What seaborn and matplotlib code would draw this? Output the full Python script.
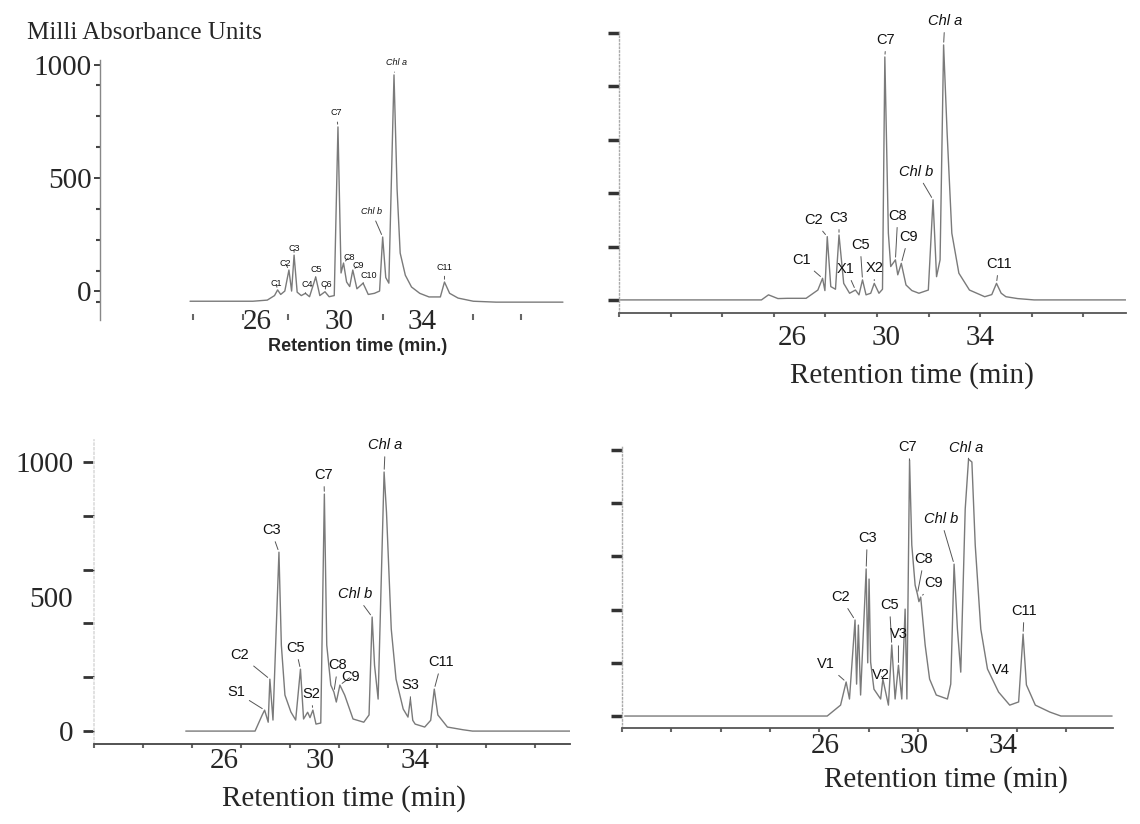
import numpy as np
import pandas as pd
import matplotlib
matplotlib.use("Agg")
import matplotlib.pyplot as plt
import seaborn as sns
from matplotlib.ticker import FixedLocator, FixedFormatter

sns.set_theme(style="white")
plt.rcParams['font.family'] = ['Liberation Serif', 'DejaVu Serif']
SANS = ['Liberation Sans', 'DejaVu Sans']

# ---------------- data (retention time in min, milli absorbance units) -------------
a_time = [22.75, 23.5, 24.2, 25.0, 25.8, 26.5, 26.85, 27.0, 27.15, 27.35, 27.55, 27.68, 27.8, 27.95,
          28.15, 28.35, 28.55, 28.85, 29.05, 29.3, 29.5, 29.75, 29.93, 30.08, 30.2, 30.35, 30.5, 30.65,
          30.85, 31.15, 31.4, 31.7, 31.95, 32.1, 32.25, 32.4, 32.65, 32.8, 32.95, 33.2, 33.5, 33.9,
          34.35, 34.9, 35.1, 35.35, 35.76, 36.5, 37.6, 40.85]
a_mau = [-45, -45, -45, -45, -45, -40, -20, 5, -15, 0, 93, 0, 159, -5,
         -20, -10, -25, 62, -20, -3, -25, -20, 726, 80, 124, 40, 20, 93,
         10, 35, -15, -10, 0, 239, 60, 35, 956, 450, 168, 70, 18, -10,
         -26, -26, 40, -10, -31, -45, -49, -49]
a_names = ["C1", "C2", "C3", "C4", "C5", "C6", "C7", "C8", "C9", "C10", "Chl b", "Chl a", "C11"]
a_peak_t = [27.0, 27.55, 27.8, 28.35, 28.85, 29.3, 29.93, 30.2, 30.65, 31.15, 32.1, 32.65, 35.1]

b_time = [18.7, 22.0, 23.7, 24.7, 25.0, 25.4, 25.8, 26.6, 27.1, 27.3, 27.4, 27.5, 27.65, 27.85, 28.0,
          28.2, 28.45, 28.7, 28.85, 29.0, 29.15, 29.35, 29.5, 29.7, 29.85, 29.95, 30.1, 30.2, 30.4,
          30.5, 30.65, 30.85, 31.1, 31.4, 31.8, 32.0, 32.15, 32.3, 32.45, 32.6, 32.8, 33.1, 33.55,
          34.2, 34.5, 34.7, 34.9, 35.1, 35.6, 36.3, 40.2]
b_mau = [0, 0, 0, 0, 19, 5, 6, 6, 37, 81, 35, 237, 50, 40, 243,
         62, 25, 37, 19, 75, 19, 25, 62, 25, 40, 910, 250, 125, 150,
         94, 137, 56, 35, 25, 37, 375, 87, 150, 955, 625, 250, 100, 37,
         12, 20, 62, 25, 12, 5, 0, 0]
b_names = ["C1", "C2", "C3", "X1", "C5", "X2", "C7", "C8", "C9", "Chl b", "Chl a", "C11"]
b_peak_t = [27.3, 27.5, 28.0, 28.7, 29.0, 29.5, 29.95, 30.4, 30.65, 32.0, 32.45, 34.7]

c_time = [24.4, 25.7, 26.8, 27.3, 27.6, 27.7, 27.85, 27.92, 28.05, 28.3, 28.4, 28.55, 28.8, 29.0,
          29.2, 29.33, 29.5, 29.6, 29.72, 29.85, 30.05, 30.2, 30.3, 30.47, 30.6, 30.7, 30.85, 31.05,
          31.4, 31.85, 32.07, 32.2, 32.3, 32.45, 32.7, 32.8, 33.0, 33.2, 33.5, 33.7, 33.8, 33.9,
          34.0, 34.4, 34.65, 34.8, 34.95, 35.35, 36.0, 36.4, 40.5]
c_mau = [0, 0, 0, 0, 60, 78, 33, 193, 41, 665, 320, 134, 71, 41,
         230, 45, 70, 50, 78, 26, 30, 881, 320, 171, 145, 108, 171, 134,
         45, 33, 60, 424, 245, 119, 963, 814, 379, 193, 82, 52, 119, 40,
         26, 15, 40, 156, 60, 15, 5, 0, 0]
c_names = ["S1", "C2", "C3", "C5", "S2", "C7", "C8", "C9", "Chl b", "Chl a", "S3", "C11"]
c_peak_t = [27.7, 27.92, 28.3, 29.2, 29.72, 30.2, 30.6, 30.85, 32.2, 32.7, 33.8, 34.8]

d_time = [17.0, 18.6, 22.1, 24.0, 25.6, 26.1, 26.7, 26.95, 27.1, 27.35, 27.42, 27.5, 27.6, 27.85,
          27.92, 27.98, 28.05, 28.2, 28.5, 28.6, 28.85, 29.0, 29.15, 29.3, 29.45, 29.6, 29.68, 29.8,
          29.9, 30.05, 30.15, 30.22, 30.3, 30.5, 30.7, 31.0, 31.5, 31.65, 31.8, 31.95, 32.1, 32.3,
          32.45, 32.6, 32.75, 33.0, 33.3, 33.8, 34.3, 34.7, 34.9, 35.05, 35.45, 36.1, 36.6, 38.9]
d_mau = [0, 0, 0, 0, 0, 0, 41, 128, 64, 361, 120, 342, 79, 553,
         200, 515, 203, 101, 64, 139, 41, 267, 64, 191, 64, 402, 64, 962,
         643, 492, 459, 430, 447, 267, 139, 79, 64, 120, 571, 327, 165, 778,
         966, 955, 643, 327, 177, 90, 41, 53, 308, 117, 41, 15, 0, 0]
d_names = ["V1", "C2", "C3", "V2", "C5", "V3", "C7", "C8", "C9", "Chl b", "Chl a", "V4", "C11"]
d_peak_t = [26.95, 27.35, 27.85, 28.6, 29.0, 29.3, 29.8, 30.15, 30.3, 31.8, 32.45, None, 34.9]

x_tick_values = [26, 30, 34]

# ---------------- layout (label positions in data coords) ----------------
a_label_pos = [(26.92, 35), (27.37, 124), (27.8, 190), (28.43, 27), (28.86, 97), (29.35, 31),
               (29.85, 788), (30.47, 150), (30.9, 111), (31.44, 71), (31.57, 350), (32.75, 1009),
               (35.1, 106)]
b_label_pos = [(26.4, 150), (26.9, 300), (28.0, 307), (28.3, 116), (28.9, 206), (29.5, 120),
               (30.0, 974), (30.5, 315), (30.95, 236), (31.3, 480), (32.5, 1045), (34.8, 135)]
c_label_pos = [(26.5, 145), (26.67, 283), (27.97, 747), (29.0, 309), (29.64, 138), (30.18, 952),
               (30.77, 245), (31.3, 201), (31.5, 509), (32.75, 1063), (33.8, 171), (35.1, 256)]
d_label_pos = [(26.05, 195), (26.7, 447), (27.9, 669), (28.5, 154), (28.9, 417), (29.3, 308),
               (29.7, 1011), (30.45, 590), (30.9, 500), (31.2, 741), (32.35, 1008), (33.9, 173),
               (34.95, 395)]

W, H = 1140, 824
fig = plt.figure(figsize=(W / 100, H / 100), dpi=100)
fig.patch.set_facecolor('white')


def make_ax(l, r, t, b):
    return fig.add_axes([l / W, 1 - b / H, (r - l) / W, (b - t) / H])


TRACE = '#7a7a7a'


def draw_trace(ax, t, v):
    df = pd.DataFrame({'t': t, 'v': v})
    sns.lineplot(data=df, x='t', y='v', ax=ax, color=TRACE, linewidth=1.0,
                 estimator=None, sort=False)
    ax.set_xlabel('')
    ax.set_ylabel('')


def annotate(ax, names, peak_t, label_pos, t, v, fs):
    for name, pt, (lx, ly) in zip(names, peak_t, label_pos):
        style = 'italic' if name.startswith('Chl') else 'normal'
        if pt is None:
            ax.text(lx, ly, name, ha='center', va='center', fontsize=fs, family=SANS,
                    style=style, color='#111', clip_on=False)
            continue
        pv = float(np.interp(pt, t, v))
        ax.annotate(name, xy=(pt, pv), xytext=(lx, ly), textcoords='data',
                    ha='center', va='center', fontsize=fs, family=SANS, style=style,
                    color='#111', annotation_clip=False,
                    arrowprops=dict(arrowstyle='-', color='#555', lw=0.7,
                                    shrinkA=1, shrinkB=2))


# ---------------- Panel A (top-left) ----------------
ax1 = make_ax(100, 565, 60, 320)
draw_trace(ax1, a_time, a_mau)
ax1.set_xlim(18.38, 40.95)
ax1.set_ylim(-128, 1022)
for s in ['top', 'right', 'bottom']:
    ax1.spines[s].set_visible(False)
ax1.spines['left'].set_color('#888')
ax1.spines['left'].set_linewidth(1.0)
ax1.set_yticks([0, 500, 1000])
ax1.set_yticklabels(['0', '500', '1000'], fontsize=21)
ax1.yaxis.set_minor_locator(FixedLocator([-50, 87.5, 225, 362.5, 637.5, 775, 912.5]))
ax1.tick_params(axis='y', which='major', left=True, length=4, width=1.3, color='#333', pad=2)
ax1.tick_params(axis='y', which='minor', left=True, length=3, width=1.5, color='#444')
ax1.set_xticks(x_tick_values)
ax1.set_xticklabels([str(x) for x in x_tick_values], fontsize=21)
ax1.tick_params(axis='x', which='major', bottom=True, length=0, pad=-8)
ax1.xaxis.set_minor_locator(FixedLocator([22.9, 25.3, 27.5, 32.1, 36.5, 38.8]))
ax1.tick_params(axis='x', which='minor', bottom=True, direction='in', length=4, width=1.5,
                color='#666')
ax1.set_xlabel('Retention time (min.)', fontsize=13, fontweight='bold', family=SANS)
ax1.xaxis.set_label_coords(0.553, -0.069)
ax1.set_ylabel('Milli Absorbance Units', fontsize=18, rotation=0, ha='left', va='center')
ax1.yaxis.set_label_coords(-0.157, 1.103)
annotate(ax1, a_names, a_peak_t, a_label_pos, a_time, a_mau, 6.5)

# ---------------- Panel B (top-right) ----------------
ax2 = make_ax(619, 1126, 30, 313)
draw_trace(ax2, b_time, b_mau)
ax2.set_xlim(18.64, 40.21)
ax2.set_ylim(-49, 1011)


def style_right(ax, xminor, pad_pt):
    for s in ['top', 'right']:
        ax.spines[s].set_visible(False)
    ax.spines['bottom'].set_color('#555')
    ax.spines['bottom'].set_linewidth(1.3)
    ax.spines['left'].set_color('#aaa')
    ax.spines['left'].set_linewidth(1.0)
    ax.spines['left'].set_linestyle(':')
    ax.set_yticks([0, 200, 400, 600, 800, 1000])
    ax.set_yticklabels([])
    ax.tick_params(axis='y', which='major', left=True, length=8, width=2.5, color='#333')
    ax.set_xticks(x_tick_values)
    ax.set_xticklabels([str(x) for x in x_tick_values], fontsize=21)
    ax.tick_params(axis='x', which='major', bottom=True, length=0, pad=pad_pt)
    ax.xaxis.set_minor_locator(FixedLocator(xminor))
    ax.tick_params(axis='x', which='minor', bottom=True, length=3, width=1.5, color='#666')


style_right(ax2, [18.64, 20.84, 23.03, 25.23, 27.42, 29.62, 31.82, 34.01, 36.21, 38.4], 8.6)
ax2.set_xlabel('Retention time (min)', fontsize=21)
ax2.xaxis.set_label_coords(0.578, -0.173)
annotate(ax2, b_names, b_peak_t, b_label_pos, b_time, b_mau, 10.5)

# ---------------- Panel C (bottom-left) ----------------
ax3 = make_ax(94, 570, 440, 744)
draw_trace(ax3, c_time, c_mau)
ax3.set_xlim(20.56, 40.48)
ax3.set_ylim(-48, 1082)
for s in ['top', 'right']:
    ax3.spines[s].set_visible(False)
ax3.spines['left'].set_color('#ddd')
ax3.spines['left'].set_linestyle(':')
ax3.spines['bottom'].set_color('#444')
ax3.spines['bottom'].set_linewidth(1.3)
ax3.set_yticks([0, 200, 400, 600, 800, 1000])
ax3.set_yticklabels(['0', '', '', '', '', '1000'], fontsize=21)
ax3.yaxis.set_minor_locator(FixedLocator([500]))
ax3.yaxis.set_minor_formatter(FixedFormatter(['500']))
ax3.tick_params(axis='y', which='major', left=True, length=8, width=2, color='#333', pad=7)
ax3.tick_params(axis='y', which='minor', left=True, length=0, pad=15, labelsize=21)
ax3.set_xticks(x_tick_values)
ax3.set_xticklabels([str(x) for x in x_tick_values], fontsize=21)
ax3.tick_params(axis='x', which='major', bottom=True, length=0, pad=3)
ax3.xaxis.set_minor_locator(FixedLocator([20.56, 22.61, 24.66, 26.71, 28.76, 30.81, 32.86,
                                          34.91, 36.96, 39.01]))
ax3.tick_params(axis='x', which='minor', bottom=True, length=3, width=1.5, color='#666')
ax3.set_xlabel('Retention time (min)', fontsize=21)
ax3.xaxis.set_label_coords(0.525, -0.135)
annotate(ax3, c_names, c_peak_t, c_label_pos, c_time, c_mau, 10.5)

# ---------------- Panel D (bottom-right) ----------------
ax4 = make_ax(622, 1113, 445, 728)
draw_trace(ax4, d_time, d_mau)
ax4.set_xlim(16.88, 38.94)
ax4.set_ylim(-45, 1019)
style_right(ax4, [16.88, 19.1, 21.31, 23.53, 25.74, 27.96, 30.18, 32.39, 34.61, 36.82], 3.5)
ax4.set_xlabel('Retention time (min)', fontsize=21)
ax4.xaxis.set_label_coords(0.66, -0.134)
annotate(ax4, d_names, d_peak_t, d_label_pos, d_time, d_mau, 10.5)

fig.savefig('out.png', dpi=100, facecolor='white')
